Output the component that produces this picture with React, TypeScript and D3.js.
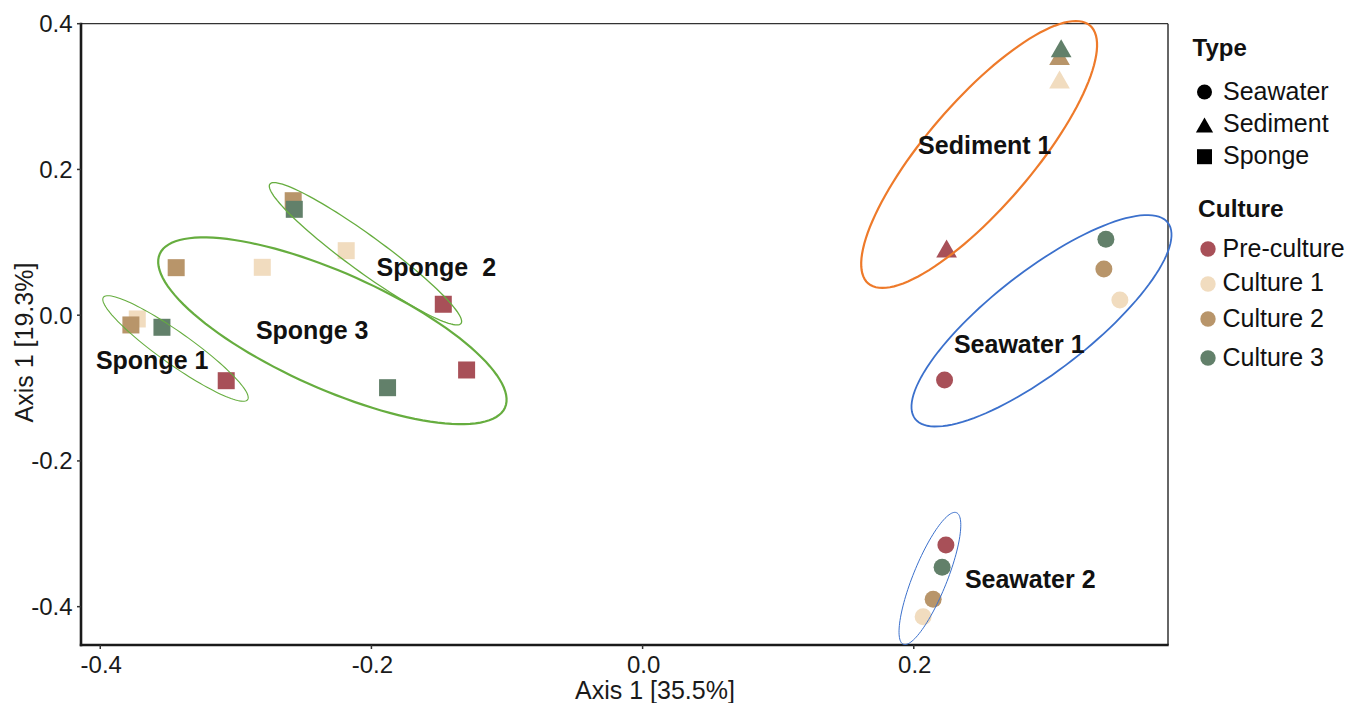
import React from "react";
import * as d3 from "d3";

// ---------- data ----------
const cultures = ["Pre-culture", "Culture 1", "Culture 2", "Culture 3"];
const types = ["Seawater", "Sediment", "Sponge"];

// each group: values in order Pre-culture, Culture 1, Culture 2, Culture 3
const sponge1X = [-0.3071, -0.3727, -0.3774, -0.3545];
const sponge1Y = [-0.0899, -0.0052, -0.0134, -0.0166];
const sponge2X = [-0.147, -0.2186, -0.2577, -0.2569];
const sponge2Y = [0.015, 0.0885, 0.1571, 0.1453];
const sponge3X = [-0.1298, -0.2805, -0.344, -0.1881];
const sponge3Y = [-0.0752, 0.0657, 0.0652, -0.0995];
const sediment1X = [0.2242, 0.3075, 0.3075, 0.3087];
const sediment1Y = [0.0915, 0.3234, 0.3557, 0.3662];
const seawater1X = [0.2227, 0.352, 0.3402, 0.3417];
const seawater1Y = [-0.0889, 0.0209, 0.0634, 0.1042];
const seawater2X = [0.2237, 0.2069, 0.2143, 0.2209];
const seawater2Y = [-0.3153, -0.4137, -0.3898, -0.3459];

const groupNames = ["Sponge 1", "Sponge  2", "Sponge 3", "Sediment 1", "Seawater 1", "Seawater 2"];
const groupType = ["Sponge", "Sponge", "Sponge", "Sediment", "Seawater", "Seawater"];
const groupXs = [sponge1X, sponge2X, sponge3X, sediment1X, seawater1X, seawater2X];
const groupYs = [sponge1Y, sponge2Y, sponge3Y, sediment1Y, seawater1Y, seawater2Y];

// ellipse centre and semi-axis vectors (data units)
const ellipseCenterX = [-0.3445, -0.2044, -0.2288, 0.2482, 0.2942, 0.2119];
const ellipseCenterY = [-0.0457, 0.0843, -0.0214, 0.2205, -0.0077, -0.3613];
const ellipseMajor = [
  [0.0532, -0.0702],
  [0.0705, -0.0956],
  [0.1273, -0.1055],
  [0.0818, 0.1769],
  [0.0932, 0.1346],
  [0.0196, 0.0903],
];
const ellipseMinor = [
  [-0.0068, -0.0179],
  [-0.0078, -0.0199],
  [-0.0174, -0.0727],
  [0.0296, -0.0474],
  [0.0226, -0.0542],
  [0.0116, -0.0087],
];

// group label anchor (left, baseline) in data units
const labelX = [-0.4032, -0.1962, -0.2852, 0.2032, 0.2296, 0.2377];
const labelY = [-0.0738, 0.0542, -0.0327, 0.2212, -0.0523, -0.3748];

const xTicks = [-0.4, -0.2, 0.0, 0.2];
const yTicks = [-0.4, -0.2, 0.0, 0.2, 0.4];

// ---------- styles ----------
const cultureColor: Record<string, string> = {
  "Pre-culture": "#a85058",
  "Culture 1": "#f1dcbf",
  "Culture 2": "#b8956a",
  "Culture 3": "#62806a",
};
const ellipseColor = ["#66ad3f", "#66ad3f", "#66ad3f", "#ee7a2a", "#3b70cc", "#3b70cc"];
const ellipseWidth = [1.1, 1.3, 2.2, 2.2, 1.8, 1.0];

const FONT = "'Liberation Sans', Arial, Helvetica, sans-serif";

const W = 1362;
const H = 703;
const L = 81, R = 1168, T = 23.7, B = 645;

const x = d3.scaleLinear().domain([-0.4142, 0.3875]).range([L, R]);
const y = d3.scaleLinear().domain([-0.4526, 0.4]).range([B, T]);

const fmt = (v: number) => {
  const s = v.toFixed(1);
  return s === "-0.0" ? "0.0" : s;
};

function Marker({ type, cx, cy, fill, s }: { type: string; cx: number; cy: number; fill: string; s: number }) {
  if (type === "Seawater") return <circle cx={cx} cy={cy} r={s / 2} fill={fill} />;
  if (type === "Sponge") return <rect x={cx - s / 2} y={cy - s / 2} width={s} height={s} fill={fill} />;
  const w = s * 1.15;
  const h = s;
  const p = `M${cx},${cy - h / 2}L${cx - w / 2},${cy + h / 2}L${cx + w / 2},${cy + h / 2}Z`;
  return <path d={p} fill={fill} />;
}

export default function App() {
  const ellipsePath = (i: number) => {
    const n = 120;
    const pts = d3.range(n).map((k) => {
      const t = (2 * Math.PI * k) / n;
      const dx = ellipseCenterX[i] + Math.cos(t) * ellipseMajor[i][0] + Math.sin(t) * ellipseMinor[i][0];
      const dy = ellipseCenterY[i] + Math.cos(t) * ellipseMajor[i][1] + Math.sin(t) * ellipseMinor[i][1];
      return [x(dx), y(dy)] as [number, number];
    });
    return d3.line().curve(d3.curveLinearClosed)(pts) || "";
  };

  const legendCultureY = [249, 284, 319, 358];
  const legendCultureTextY = [256.7, 291, 326.5, 366];
  const legendTypeY = [92, 125, 156.7];
  const legendTypeTextY = [100, 132, 163.5];

  return (
    <svg width={W} height={H} style={{ position: "absolute", left: 0, top: 0, background: "#fff" }} fontFamily={FONT}>
      <rect x={0} y={0} width={W} height={H} fill="#fff" />
      {/* frame */}
      <line x1={L} x2={R} y1={T} y2={T} stroke="#333" strokeWidth={1.3} />
      <line x1={R} x2={R} y1={T} y2={B} stroke="#333" strokeWidth={1.5} />
      <line x1={L} x2={L} y1={T - 1} y2={B + 1.2} stroke="#1a1a1a" strokeWidth={2.6} />
      <line x1={L - 1.2} x2={R + 0.7} y1={B} y2={B} stroke="#1a1a1a" strokeWidth={2.6} />

      {/* y ticks */}
      {yTicks.map((v) => (
        <g key={"y" + v}>
          <line x1={L - 4} x2={L} y1={y(v)} y2={y(v)} stroke="#333" strokeWidth={1.5} />
          <text x={L - 8.5} y={y(v) + 8.5} textAnchor="end" fontSize={24} fill="#1a1a1a">
            {fmt(v)}
          </text>
        </g>
      ))}
      {/* x ticks */}
      {xTicks.map((v) => (
        <g key={"x" + v}>
          <line x1={x(v)} x2={x(v)} y1={B} y2={B + 4} stroke="#333" strokeWidth={1.5} />
          <text x={x(v) + 1} y={672.5} textAnchor="middle" fontSize={24} fill="#1a1a1a">
            {fmt(v)}
          </text>
        </g>
      ))}
      <text x={655} y={699} textAnchor="middle" fontSize={25} fill="#1a1a1a">
        Axis 1 [35.5%]
      </text>
      <text transform={`translate(32.5,342.5) rotate(-90)`} textAnchor="middle" fontSize={25} fill="#1a1a1a">
        Axis 1 [19.3%]
      </text>

      {/* points */}
      {groupNames.map((g, gi) =>
        cultures.map((c, ci) => (
          <Marker
            key={g + c}
            type={groupType[gi]}
            cx={x(groupXs[gi][ci])}
            cy={y(groupYs[gi][ci])}
            fill={cultureColor[c]}
            s={groupType[gi] === "Sediment" ? 18 : 17}
          />
        ))
      )}

      {/* ellipses */}
      {groupNames.map((g, i) => (
        <path key={"e" + g} d={ellipsePath(i)} fill="none" stroke={ellipseColor[i]} strokeWidth={ellipseWidth[i]} />
      ))}

      {/* group labels */}
      {groupNames.map((g, i) => (
        <text
          key={"l" + g}
          x={x(labelX[i])}
          y={y(labelY[i])}
          fontSize={25}
          fontWeight="bold"
          fill="#111"
          style={{ whiteSpace: "pre" }}
        >
          {g}
        </text>
      ))}

      {/* legend */}
      <text x={1192.5} y={56} fontSize={24} fontWeight="bold" fill="#111">
        Type
      </text>
      {types.map((t, i) => (
        <g key={"lt" + t}>
          <Marker type={t} cx={1204.5} cy={legendTypeY[i]} fill="#000" s={15} />
          <text x={1223} y={legendTypeTextY[i]} fontSize={25} fill="#111">
            {t}
          </text>
        </g>
      ))}
      <text x={1198} y={216.7} fontSize={24.5} fontWeight="bold" fill="#111">
        Culture
      </text>
      {cultures.map((c, i) => (
        <g key={"lc" + c}>
          <circle cx={1208} cy={legendCultureY[i]} r={7.7} fill={cultureColor[c]} />
          <text x={1222.5} y={legendCultureTextY[i]} fontSize={25} fill="#111">
            {c}
          </text>
        </g>
      ))}
    </svg>
  );
}
